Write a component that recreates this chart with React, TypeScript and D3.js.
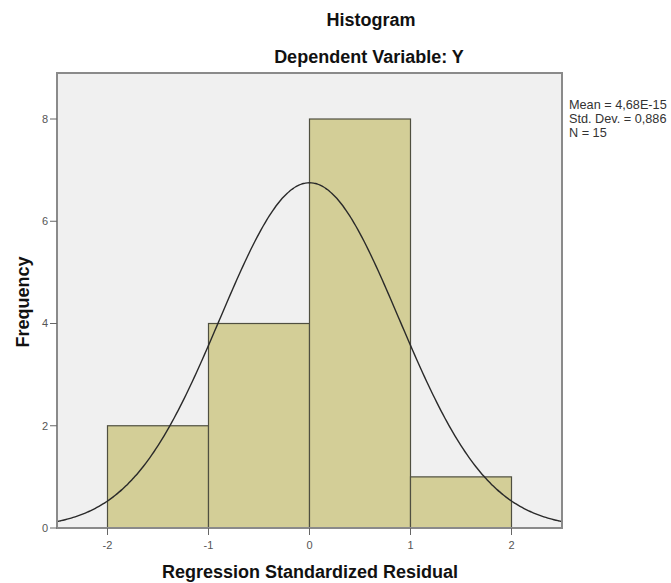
import React from "react";
import * as d3 from "d3";

const binStarts = [-2, -1, 0, 1];
const binEnds = [-1, 0, 1, 2];
const frequencies = [2, 4, 8, 1];
const xTicks = [-2, -1, 0, 1, 2];
const yTicks = [0, 2, 4, 6, 8];
const mean = 4.68e-15;
const stdDev = 0.886;
const nObs = 15;
const legendLines = ["Mean = 4,68E-15", "Std. Dev. = 0,886", "N = 15"];

export default function App() {
  const W = 671, H = 583;
  const left = 57, right = 562, top = 73, bottom = 528;
  const x = d3.scaleLinear().domain([-2.5, 2.5]).range([left, right]);
  const y = d3.scaleLinear().domain([0, 8.9]).range([bottom, top]);
  const binW = 1;
  const pdf = (v: number) =>
    (nObs * binW) / (stdDev * Math.sqrt(2 * Math.PI)) * Math.exp(-0.5 * ((v - mean) / stdDev) ** 2);
  const pts = d3.range(-2.5, 2.5001, 0.02).map((v) => [v, pdf(v)] as [number, number]);
  const line = d3.line<[number, number]>().x((d) => x(d[0])).y((d) => y(d[1])).curve(d3.curveBasis);
  const font = "Arial, 'Liberation Sans', sans-serif";
  return (
    <svg width={W} height={H} style={{ position: "absolute", left: 0, top: 0, background: "#fff" }}>
      <text x={371} y={26} textAnchor="middle" fontFamily={font} fontWeight="bold" fontSize={18} fill="#111">Histogram</text>
      <text x={369} y={63} textAnchor="middle" fontFamily={font} fontWeight="bold" fontSize={18} fill="#111">Dependent Variable: Y</text>
      <rect x={left} y={top} width={right - left} height={bottom - top} fill="#f0f0f0" />
      {frequencies.map((f, i) => (
        <rect key={i} x={x(binStarts[i])} y={y(f)} width={x(binEnds[i]) - x(binStarts[i])} height={y(0) - y(f)}
          fill="#d3ce97" stroke="#4f4f40" strokeWidth={1.2} />
      ))}
      <path d={line(pts) || ""} fill="none" stroke="#2a2a2a" strokeWidth={1.4} />
      <rect x={left} y={top} width={right - left} height={bottom - top} fill="none" stroke="#8a8a8a" strokeWidth={2} />
      {yTicks.map((t) => (
        <g key={t}>
          <line x1={left - 7} x2={left} y1={y(t)} y2={y(t)} stroke="#666" />
          <text x={left - 9} y={y(t)} dy="0.36em" textAnchor="end" fontFamily={font} fontSize={11} fill="#555">{t}</text>
        </g>
      ))}
      {xTicks.map((t) => (
        <g key={t}>
          <line x1={x(t)} x2={x(t)} y1={bottom} y2={bottom + 7} stroke="#666" />
          <text x={x(t)} y={bottom + 21} textAnchor="middle" fontFamily={font} fontSize={11} fill="#555">{t}</text>
        </g>
      ))}
      <text x={310} y={578} textAnchor="middle" fontFamily={font} fontWeight="bold" fontSize={18} fill="#111">Regression Standardized Residual</text>
      <text transform={`translate(29,${302}) rotate(-90)`} textAnchor="middle" fontFamily={font} fontWeight="bold" fontSize={18} fill="#111">Frequency</text>
      {legendLines.map((s, i) => (
        <text key={i} x={569} y={109 + i * 14} fontFamily={font} fontSize={12.7} fill="#333">{s}</text>
      ))}
    </svg>
  );
}
